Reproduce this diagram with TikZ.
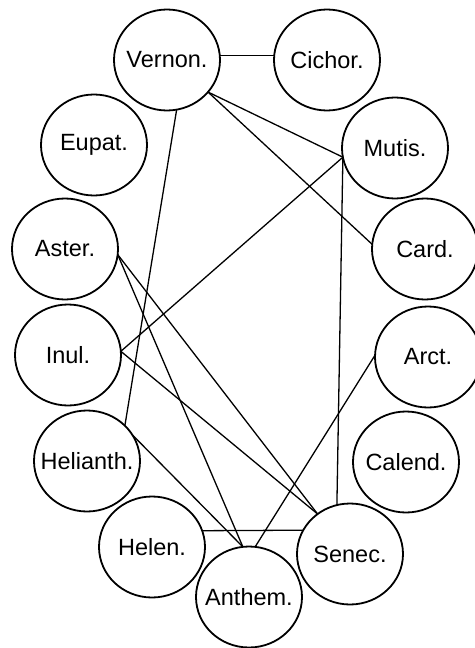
\documentclass[tikz,border=0pt]{standalone}
\usepackage{fontspec}
\setmainfont{Liberation Sans}
\usetikzlibrary{shapes.geometric}
\begin{document}
\begin{tikzpicture}[x=1pt,y=-1pt,
  taxon/.style={ellipse,draw,line width=1.8pt,minimum width=106pt,minimum height=101pt,
    inner xsep=-14pt,inner ysep=0pt,outer sep=0pt,font=\fontsize{23.5}{25}\selectfont},
  link/.style={line width=1.3pt}]
\useasboundingbox (0,0) rectangle (474,648);
% tribes arranged on a ring
\node[taxon] (vernon)    at (167,60)  {Vernon.};
\node[taxon] (cichor)    at (327,60)  {Cichor.};
\node[taxon] (eupat)     at (94,145)  {Eupat.};
\node[taxon] (mutis)     at (395,148) {Mutis.};
\node[taxon] (aster)     at (65,249)  {Aster.};
\node[taxon] (card)      at (425,249) {Card.};
\node[taxon] (inul)      at (68,355)  {Inul.};
\node[taxon] (arct)      at (428,357) {Arct.};
\node[taxon] (helianth)  at (87,461)  {Helianth.};
\node[taxon] (calend)    at (406,462) {Calend.};
\node[taxon] (helen)     at (152,547) {Helen.};
\node[taxon] (senec)     at (350,554) {Senec.};
\node[taxon] (anthem)    at (249,597) {Anthem.};
% relationships
\draw[link] (vernon.5) -- (cichor.175);
\draw[link] (vernon.-38) -- (mutis.190);
\draw[link] (vernon.-38) -- (card.175);
\draw[link] (vernon.-79) -- (helianth.43);
\draw[link] (mutis.190) -- (inul.4);
\draw[link] (mutis.190) -- (senec.105);
\draw[link] (aster.-6) -- (senec.129);
\draw[link] (aster.-6) -- (anthem.97);
\draw[link] (inul.4) -- (senec.129);
\draw[link] (helianth.30) -- (anthem.97);
\draw[link] (helen.18) -- (senec.153);
\draw[link] (arct.178) -- (anthem.83);
\end{tikzpicture}
\end{document}
